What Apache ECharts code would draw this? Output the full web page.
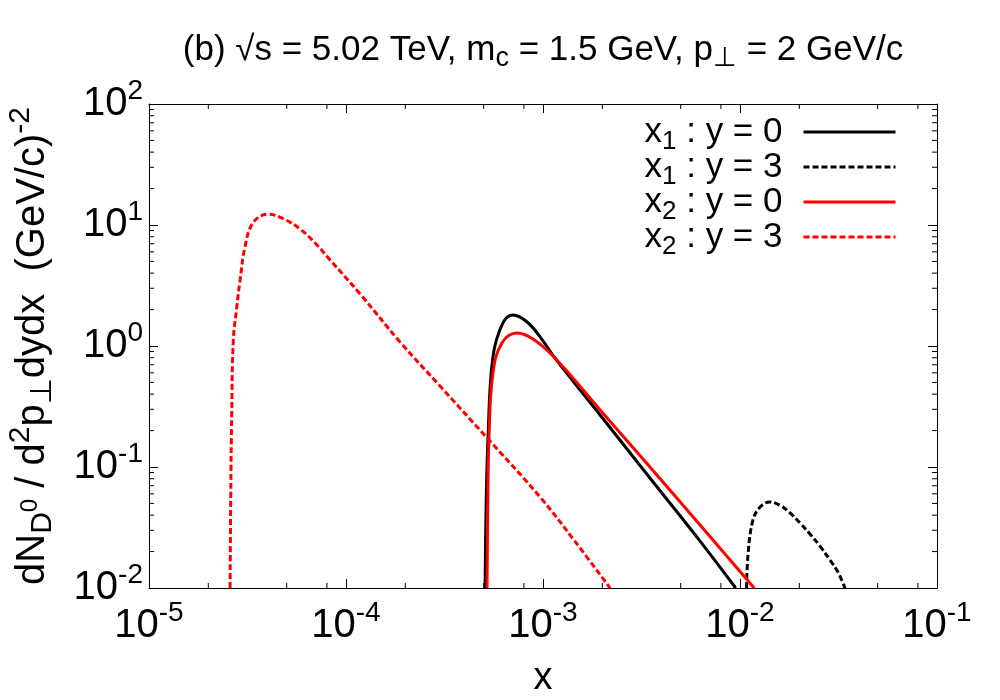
<!DOCTYPE html>
<html>
<head>
<meta charset="utf-8">
<script src="https://cdn.jsdelivr.net/npm/echarts@6/dist/echarts.min.js"></script>
<style>
  html, body { margin: 0; background: #fff; }
  #chart { width: 1000px; height: 700px; }
</style>
</head>
<body>
<div id="chart"></div>
<script>
// curves: x (log) and dN/d2p dydx (log)
const x1y0X = [5.08e-4, 5.14e-4, 5.26e-4, 5.57e-4, 6.26e-4, 7.05e-4, 8.30e-4, 9.66e-4, 1.15e-3, 1.95e-3, 3.49e-3, 6.27e-3, 9.51e-3];
const x1y0Y = [0.01, 0.0442, 0.177, 0.811, 1.55, 1.80, 1.58, 1.19, 0.796, 0.269, 0.0811, 0.0244, 0.01];

const x1y3X = [0.0108, 0.0110, 0.01164, 0.01265, 0.0142, 0.01596, 0.01795, 0.02018, 0.02266, 0.02547, 0.02864, 0.03141, 0.0341];
const x1y3Y = [0.01, 0.0195, 0.0365, 0.0467, 0.0514, 0.0481, 0.0417, 0.0344, 0.0279, 0.0222, 0.0170, 0.01355, 0.01];

const x2y0X = [5.20e-4, 5.24e-4, 5.32e-4, 5.57e-4, 6.19e-4, 7.38e-4, 8.89e-4, 1.15e-3, 1.95e-3, 3.49e-3, 6.27e-3, 1.18e-2];
const x2y0Y = [0.01, 0.045, 0.177, 0.598, 1.06, 1.28, 1.14, 0.796, 0.296, 0.100, 0.0332, 0.01];

const x2y3X = [2.58e-5, 2.60e-5, 2.63e-5, 2.68e-5, 2.79e-5, 2.90e-5, 3.07e-5, 3.37e-5, 4.02e-5, 4.84e-5, 5.84e-5, 6.97e-5, 8.30e-5,
               1.18e-4, 1.88e-4, 3.00e-4, 5.20e-4, 9.66e-4, 1.45e-3, 2.19e-3];
const x2y3Y = [0.01, 0.0565, 0.279, 1.12, 2.10, 3.51, 6.58, 10.4, 12.3, 11.2, 9.27, 7.10, 5.14,
               2.69, 1.08, 0.467, 0.174, 0.0565, 0.0244, 0.01];

const seriesNames = ['x1 : y = 0', 'x1 : y = 3', 'x2 : y = 0', 'x2 : y = 3'];
const legendLabels = [
  '{b|x}{sub|1}{b| : y = 0}',
  '{b|x}{sub|1}{b| : y = 3}',
  '{b|x}{sub|2}{b| : y = 0}',
  '{b|x}{sub|2}{b| : y = 3}'
];

// minor tick marks (gnuplot puts them at 2,5,8 on x and 2..9 on y)
const xMinorMant = [2, 5, 8];
const yMinorMant = [2, 3, 4, 5, 6, 7, 8, 9];
const xDecades = [1e-5, 1e-4, 1e-3, 1e-2];
const yDecades = [1e-2, 1e-1, 1, 10];

const FONT = 'Liberation Sans';

function zip(xs, ys) {
  return xs.map((x, i) => [x, ys[i]]);
}

const xMinor = [];
xDecades.forEach(d => xMinorMant.forEach(m => xMinor.push(m * d)));
const yMinor = [];
yDecades.forEach(d => yMinorMant.forEach(m => yMinor.push(m * d)));

function powLabel(v) {
  const e = Math.round(Math.log10(v));
  return '{n|10}{e|' + e + '}';
}

// sub/superscripts: padding on one side shifts the glyph by half of it
function subStyle(size, shift) {
  return { fontSize: size, lineHeight: 10, padding: [shift * 2, 0, 0, 0], fontFamily: FONT, color: '#000', fill: '#000' };
}
function supStyle(size, shift) {
  return { fontSize: size, lineHeight: 10, padding: [0, 0, shift * 2, 0], fontFamily: FONT, color: '#000', fill: '#000' };
}

const tickRich = {
  n: { fontSize: 40, lineHeight: 44, fontFamily: FONT, color: '#000' },
  e: supStyle(28, 13)
};

let myChart = echarts.init(document.getElementById('chart'));

function lineSeries(name, data, color, dashed) {
  return {
    name: name,
    type: 'line',
    data: data,
    showSymbol: false,
    symbol: 'none',
    smooth: 0.4,
    clip: true,
    xAxisIndex: 0,
    yAxisIndex: 0,
    lineStyle: { color: color, width: 3, type: dashed ? [6, 3] : 'solid' },
    itemStyle: { color: color }
  };
}

function tickSeries(vals, isX) {
  return {
    type: 'custom',
    silent: true,
    clip: false,
    xAxisIndex: 0,
    yAxisIndex: 0,
    data: vals.map(v => isX ? [v, 1] : [1e-3, v]),
    renderItem: function (params, api) {
      const cs = params.coordSys;
      const style = { stroke: '#000', lineWidth: 1 };
      if (isX) {
        const x = api.coord([api.value(0), 1])[0];
        return { type: 'group', children: [
          { type: 'line', shape: { x1: x, y1: cs.y + cs.height, x2: x, y2: cs.y + cs.height - 5 }, style: style },
          { type: 'line', shape: { x1: x, y1: cs.y, x2: x, y2: cs.y + 5 }, style: style }
        ] };
      }
      const y = api.coord([1e-3, api.value(1)])[1];
      return { type: 'group', children: [
        { type: 'line', shape: { x1: cs.x, y1: y, x2: cs.x + 5, y2: y }, style: style },
        { type: 'line', shape: { x1: cs.x + cs.width, y1: y, x2: cs.x + cs.width - 5, y2: y }, style: style }
      ] };
    }
  };
}

const axisCommon = {
  type: 'log',
  logBase: 10,
  axisLine: { show: true, lineStyle: { color: '#000', width: 1 } },
  axisTick: { show: true, inside: true, length: 9, lineStyle: { color: '#000' } },
  splitLine: { show: false }
};

myChart.setOption({
  animation: false,
  backgroundColor: '#fff',
  grid: { left: 149, right: 63, top: 104, bottom: 112, containLabel: false, outerBoundsMode: 'none' },
  graphic: [{
    type: 'text',
    x: 543,
    y: 50,
    style: {
      text: '{b|(b) √s = 5.02 TeV, m}{sub|c}{b| = 1.5 GeV, p}{sub|⊥}{b| = 2 GeV/c}',
      align: 'center',
      verticalAlign: 'middle',
      rich: {
        b: { fontSize: 35, lineHeight: 40, fontFamily: FONT, fill: '#000' },
        sub: subStyle(27, 9)
      }
    }
  }],
  legend: {
    orient: 'vertical',
    right: 98,
    top: 104,
    align: 'right',
    itemWidth: 92,
    itemHeight: 14,
    itemGap: -11,
    data: seriesNames,
    selectedMode: false,
    itemStyle: { opacity: 0 },
    lineStyle: { width: 3 },
    formatter: function (name) {
      return legendLabels[seriesNames.indexOf(name)];
    },
    textStyle: {
      padding: [0, 16, 0, 0],
      rich: {
        b: { fontSize: 35, lineHeight: 30, fontFamily: FONT, color: '#000' },
        sub: subStyle(26, 10)
      }
    }
  },
  xAxis: [
    Object.assign({}, axisCommon, {
      min: 1e-5, max: 0.1, position: 'bottom',
      name: 'x',
      nameLocation: 'middle',
      nameGap: 72,
      nameTextStyle: { fontSize: 38, fontFamily: FONT, color: '#000' },
      axisLabel: { margin: 16, formatter: powLabel, rich: tickRich }
    }),
    Object.assign({}, axisCommon, {
      min: 1e-5, max: 0.1, position: 'top', axisLabel: { show: false }
    })
  ],
  yAxis: [
    Object.assign({}, axisCommon, {
      min: 0.01, max: 100, position: 'left',
      name: '{b|dN}{sub|D}{mid|0}{b| / d}{sup|2}{b|p}{sub|⊥}{b|dydx  (GeV/c)}{sup|-2}',
      nameLocation: 'middle',
      nameRotate: 90,
      nameGap: 94,
      nameTextStyle: {
        rich: {
          b: { fontSize: 40, lineHeight: 44, fontFamily: FONT, color: '#000' },
          sub: subStyle(30, 10),
          mid: supStyle(24, 3),
          sup: supStyle(30, 12)
        }
      },
      axisLabel: { margin: 6, formatter: powLabel, rich: tickRich }
    }),
    Object.assign({}, axisCommon, {
      min: 0.01, max: 100, position: 'right', axisLabel: { show: false }
    })
  ],
  series: [
    lineSeries(seriesNames[0], zip(x1y0X, x1y0Y), '#000000', false),
    lineSeries(seriesNames[1], zip(x1y3X, x1y3Y), '#000000', true),
    lineSeries(seriesNames[2], zip(x2y0X, x2y0Y), '#ff0000', false),
    lineSeries(seriesNames[3], zip(x2y3X, x2y3Y), '#ff0000', true),
    tickSeries(xMinor, true),
    tickSeries(yMinor, false)
  ]
});
</script>
</body>
</html>
